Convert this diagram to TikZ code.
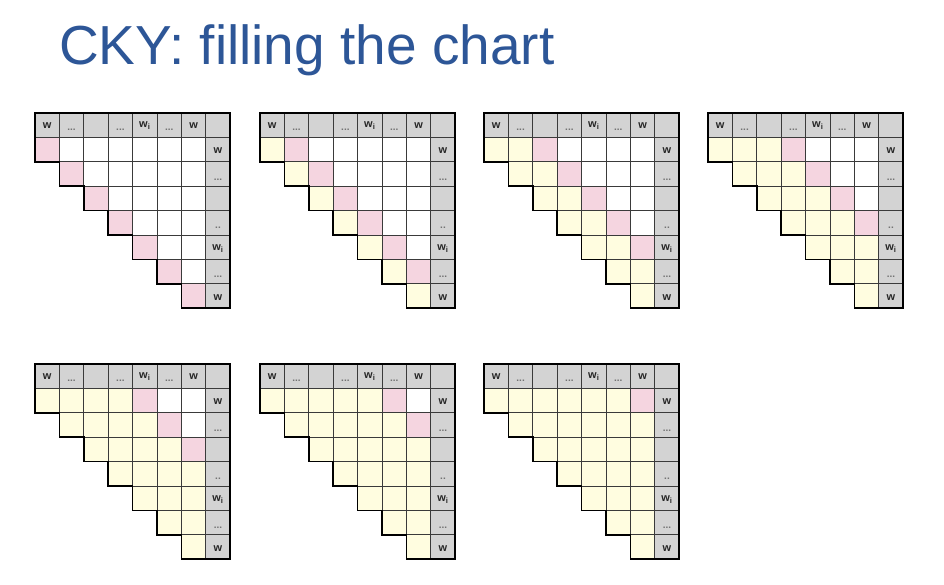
\documentclass[tikz,border=0pt]{standalone}
\usepackage{fontspec}
\setmainfont{Liberation Sans}
\definecolor{titleblue}{HTML}{2D5697}
\definecolor{pinkc}{HTML}{F5D5E0}
\definecolor{yelc}{HTML}{FFFDE0}
\definecolor{hdrc}{HTML}{D3D3D3}
\definecolor{gridc}{HTML}{3A3A3A}
\tikzset{
  cellbox/.style={draw=gridc, line width=0.7pt},
  outline/.style={draw=black, line width=1.6pt, line join=miter},
  wlab/.style={font=\fontsize{11}{12}\selectfont\bfseries, text=black!85, inner sep=0pt},
  dlab/.style={font=\fontsize{10}{11}\selectfont\bfseries, text=black!55, inner sep=0pt, anchor=base},
}
\newcommand\dd{...}
\newcommand\ckychart[3]{%
  \begin{scope}[shift={(#1,#2)}]
    \pgfmathtruncatemacro\km{#3-1}
    % header row
    \foreach \c in {0,...,7}{
      \filldraw[cellbox, fill=hdrc] (\c*\s,0) rectangle ++(\s,\s);
    }
    % header column
    \foreach \r in {1,...,7}{
      \filldraw[cellbox, fill=hdrc] (7*\s,\r*\s) rectangle ++(\s,\s);
    }
    % triangle body
    \foreach \r in {1,...,7}{
      \pgfmathtruncatemacro\cs{\r-1}
      \foreach \c in {\cs,...,6}{
        \pgfmathtruncatemacro\dg{\c-\r+1}
        \ifnum\dg<\km \def\cc{yelc}\else\ifnum\dg=\km \def\cc{pinkc}\else\def\cc{white}\fi\fi
        \filldraw[cellbox, fill=\cc] (\c*\s,\r*\s) rectangle ++(\s,\s);
      }
    }
    % top labels
    \node[wlab] at (0.5*\s,0.5*\s) {w};
    \node[dlab] at (1.5*\s,0.7*\s) {\dd};
    \node[dlab] at (3.5*\s,0.7*\s) {\dd};
    \node[wlab] at (4.5*\s,0.5*\s) {w\textsubscript{i}};
    \node[dlab] at (5.5*\s,0.7*\s) {\dd};
    \node[wlab] at (6.5*\s,0.5*\s) {w};
    % side labels
    \node[wlab] at (7.5*\s,1.55*\s) {w};
    \node[dlab] at (7.5*\s,2.75*\s) {\dd};
    \node[dlab] at (7.5*\s,4.75*\s) {..};
    \node[wlab] at (7.5*\s,5.55*\s) {w\textsubscript{i}};
    \node[dlab] at (7.5*\s,6.75*\s) {\dd};
    \node[wlab] at (7.5*\s,7.55*\s) {w};
    % outline
    \draw[outline] (0,0) -- (8*\s,0) -- (8*\s,8*\s) -- (6*\s,8*\s) -- (6*\s,7*\s)
      -- (5*\s,7*\s) -- (5*\s,6*\s) -- (4*\s,6*\s) -- (4*\s,5*\s) -- (3*\s,5*\s)
      -- (3*\s,4*\s) -- (2*\s,4*\s) -- (2*\s,3*\s) -- (\s,3*\s) -- (\s,2*\s)
      -- (0,2*\s) -- cycle;
  \end{scope}%
}
\begin{document}
\begin{tikzpicture}[x=1pt,y=-1pt]
  \def\s{24.4}
  \useasboundingbox (0,0) rectangle (944,585);
  \fill[white] (0,0) rectangle (944,585);
  \node[anchor=base west, inner sep=0pt, text=titleblue,
        font=\fontsize{55}{58}\selectfont] (title) at (59,65) {CKY: filling the chart};
  \ckychart{35}{113}{1}
  \ckychart{260}{113}{2}
  \ckychart{484}{113}{3}
  \ckychart{708}{113}{4}
  \ckychart{35}{364}{5}
  \ckychart{260}{364}{6}
  \ckychart{484}{364}{7}
\end{tikzpicture}
\end{document}
